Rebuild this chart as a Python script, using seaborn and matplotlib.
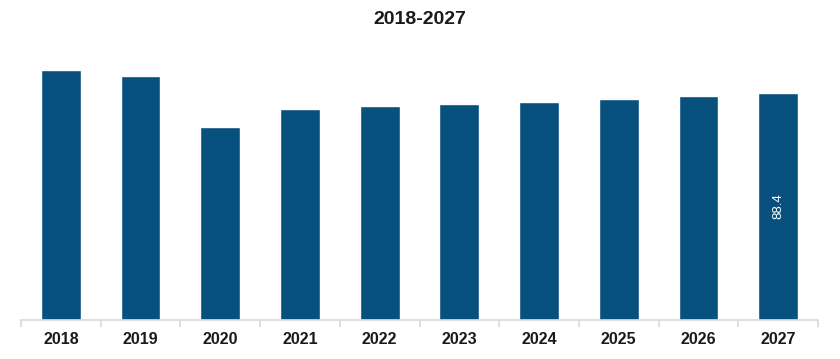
import matplotlib
matplotlib.use("Agg")
import matplotlib.pyplot as plt
import seaborn as sns
import pandas as pd
import numpy as np

years = ["2018", "2019", "2020", "2021", "2022", "2023", "2024", "2025", "2026", "2027"]
values = [97.4, 95.0, 75.1, 82.1, 83.3, 84.1, 84.9, 86.0, 87.2, 88.4]
label_year = "2027"
label_text = "88.4"
title = "2018-2027"

sns.set_style("white")
plt.rcParams['font.family'] = ['Liberation Sans', 'DejaVu Sans']

df = pd.DataFrame({"year": years, "value": values})

fig = plt.figure(figsize=(8.40, 3.59), dpi=100)
ax = fig.add_axes([21/840, 1-320/359, (818-21)/840, (320-45)/359])
sns.barplot(data=df, x="year", y="value", color="#08517e", width=0.5, saturation=1, ax=ax)

ax.set_ylim(0, 107.0)
ax.set_xlim(-0.5, len(years)-0.5)
ax.set_xlabel("")
ax.set_ylabel("")
ax.set_yticks([])
for s in ["top", "right", "left"]:
    ax.spines[s].set_visible(False)
ax.spines["bottom"].set_color("#d9d9d9")
ax.spines["bottom"].set_linewidth(1.2)
ax.tick_params(axis="x", which="major", length=0, pad=9)
ax.set_xticks(np.arange(-0.5, len(years)), minor=True)
ax.tick_params(axis="x", which="minor", bottom=True, length=5, color="#d9d9d9", width=1.2)
for t in ax.get_xticklabels():
    t.set_fontweight("bold")
    t.set_fontsize(11.5)
    t.set_color("#1a1a1a")

idx = years.index(label_year)
v = values[idx]
ax.text(idx, v/2, label_text, rotation=90, ha="center", va="center", color="white", fontsize=9.5)

fig.text(0.5, 1-20/359, title, ha="center", va="center", fontsize=14, fontweight="bold", color="#1a1a1a")

fig.savefig("out.png", dpi=100)
